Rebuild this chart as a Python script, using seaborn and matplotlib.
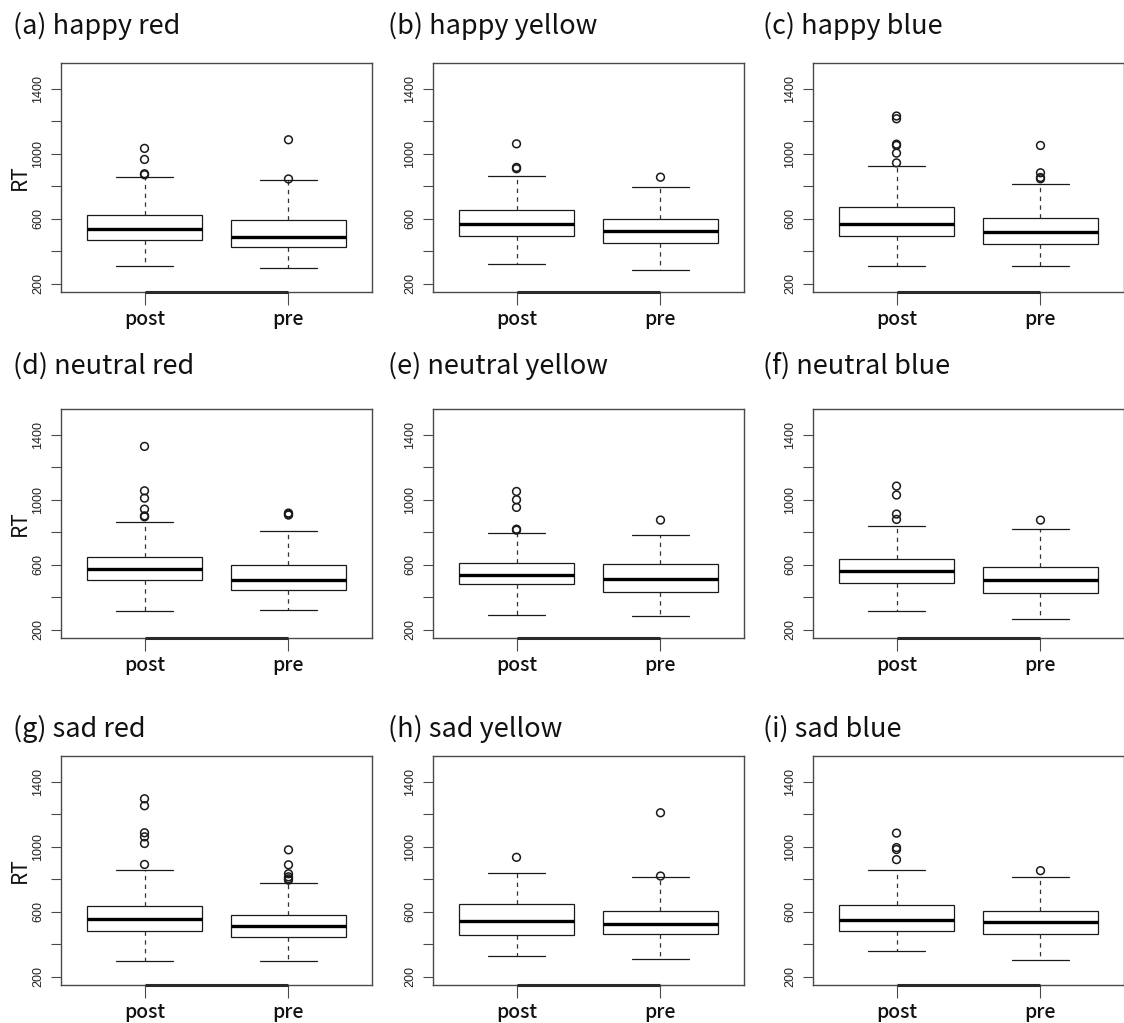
import matplotlib
matplotlib.use("Agg")
import matplotlib.pyplot as plt
import numpy as np
import pandas as pd
import seaborn as sns

# ---------------- data ----------------
titles = ['(a) happy red', '(b) happy yellow', '(c) happy blue',
          '(d) neutral red', '(e) neutral yellow', '(f) neutral blue',
          '(g) sad red', '(h) sad yellow', '(i) sad blue']
conditions = ['post', 'pre']

post_low = [307, 321, 307, 315, 294, 319, 300, 327, 358]
post_q1 = [471, 493, 497, 506, 479, 489, 485, 455, 479]
post_median = [538, 571, 569, 573, 540, 559, 557, 543, 549]
post_q3 = [625, 655, 672, 649, 612, 633, 633, 645, 641]
post_high = [856, 862, 922, 862, 793, 836, 860, 841, 859]
post_outliers = [[871, 877, 965, 1033], [908, 916, 1061],
                 [944, 1004, 1051, 1059, 1215, 1232],
                 [895, 901, 942, 1010, 1055, 1328],
                 [813, 819, 953, 1000, 1051], [879, 912, 1029, 1084],
                 [891, 1020, 1061, 1086, 1252, 1295], [935],
                 [921, 983, 995, 1084]]

pre_low = [298, 286, 307, 325, 288, 268, 298, 311, 303]
pre_q1 = [428, 450, 446, 444, 434, 428, 444, 463, 461]
pre_median = [491, 526, 516, 504, 515, 508, 510, 525, 537]
pre_q3 = [592, 600, 602, 600, 602, 588, 581, 607, 608]
pre_high = [838, 795, 811, 809, 782, 821, 776, 812, 816]
pre_outliers = [[845, 1086], [856], [846, 854, 883, 1051], [906, 912, 918],
                [875], [875], [795, 803, 815, 834, 889, 981], [820, 1209],
                [853]]

y_ticks = [200, 400, 600, 800, 1000, 1200, 1400]
y_tick_labels = ['200', '', '600', '', '1000', '', '1400']

# ---------------- style ----------------
sns.set_theme(style="white")
plt.rcParams['font.family'] = ['Liberation Sans', 'DejaVu Sans']
JP = ['Noto Sans CJK JP', 'DejaVu Sans']

W, H = 1124, 1023
fig = plt.figure(figsize=(W / 100, H / 100), dpi=100)

col_left = [61, 433, 813]
row_top = [63, 409, 756]
ax_w, ax_h = 311, 229
title_x = [13, 388, 763]
title_y = [26, 366, 729]

frame_color = '#4a4a4a'

for i, title in enumerate(titles):
    r, c = divmod(i, 3)
    left, top = col_left[c], row_top[r]
    ax = fig.add_axes([left / W, 1 - (top + ax_h) / H, ax_w / W, ax_h / H])

    box_df = pd.DataFrame({
        'cond': ['post'] * 5 + ['pre'] * 5,
        'RT': [post_low[i], post_q1[i], post_median[i], post_q3[i], post_high[i],
               pre_low[i], pre_q1[i], pre_median[i], pre_q3[i], pre_high[i]],
    })
    out_df = pd.DataFrame({
        'cond': ['post'] * len(post_outliers[i]) + ['pre'] * len(pre_outliers[i]),
        'RT': post_outliers[i] + pre_outliers[i],
    })

    sns.boxplot(data=box_df, x='cond', y='RT', order=conditions, ax=ax,
                whis=(0, 100), width=0.8, color='white', linecolor='#1a1a1a',
                linewidth=0.9, saturation=1, showfliers=False,
                medianprops=dict(linewidth=2.4, color='black'),
                whiskerprops=dict(linestyle=(0, (3.5, 3.5)), color='#333333'))
    n_before = len(ax.collections)
    sns.stripplot(data=out_df, x='cond', y='RT', order=conditions, ax=ax,
                  jitter=False, color='black', marker='o', size=5.6,
                  linewidth=1.1, edgecolor='#1a1a1a')
    for coll in ax.collections[n_before:]:
        coll.set_facecolor('none')
        coll.set_edgecolor('#1a1a1a')

    ax.set_xlim(-0.58, len(conditions) - 1 + 0.58)
    ax.set_ylim(150, 1558)

    # R-style axis line between first and last category on the bottom edge
    ax.plot([0, len(conditions) - 1], [ax.get_ylim()[0]] * 2, color='#2a2a2a',
            lw=2.2, clip_on=False, solid_capstyle='butt', zorder=5)

    ax.set_yticks(y_ticks)
    ax.set_yticklabels(y_tick_labels)
    for lab in ax.get_yticklabels():
        lab.set_rotation(90)
        lab.set_va('center')
        lab.set_fontsize(9)
        lab.set_color('#222222')
    for lab in ax.get_xticklabels():
        lab.set_family(JP)
        lab.set_fontsize(14)
        lab.set_weight('medium')
        lab.set_color('#111111')

    ax.tick_params(axis='y', length=7, width=0.8, pad=5, color=frame_color,
                   left=True)
    ax.tick_params(axis='x', length=9, width=0.8, pad=4, color=frame_color,
                   bottom=True)

    ax.set_xlabel('')
    if c == 0:
        ax.set_ylabel('RT', fontsize=15, family=JP, color='#111111', labelpad=1)
    else:
        ax.set_ylabel('')

    for sp in ax.spines.values():
        sp.set_visible(True)
        sp.set_color(frame_color)
        sp.set_linewidth(1.0)

    fig.text(title_x[c] / W, 1 - title_y[r] / H, title, fontsize=19.5,
             family=JP, color='#111111', ha='left', va='center')

fig.savefig('out.png', dpi=100, facecolor='white')
